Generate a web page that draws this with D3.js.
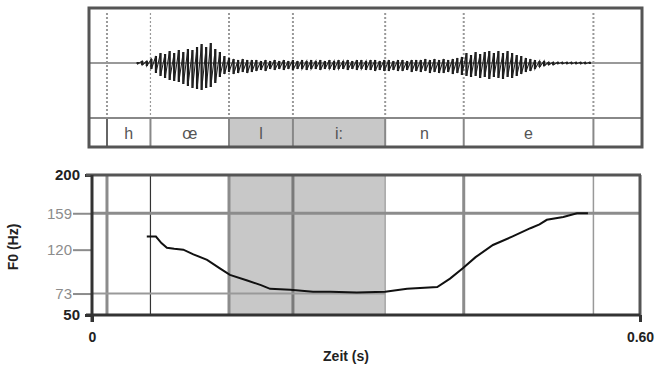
<!DOCTYPE html>
<html lang="de">
<head>
<meta charset="UTF-8">
<title>F0-Verlauf „Hline“</title>
<script src="https://d3js.org/d3.v7.min.js"></script>
<style>
  body { margin: 0; background: #fff; }
  svg { display: block; font-family: "Liberation Sans", Arial, sans-serif; }
</style>
</head>
<body>
<svg id="chart" width="662" height="366"></svg>
<script>
// Segmentgrenzen (s) und Lautbezeichnungen
const boundaries = [0.0164, 0.064, 0.150, 0.220, 0.321, 0.407, 0.549];
const segments = ["", "h", "œ", "l", "i:", "n", "e", ""];
const shadedSegments = ["l", "i:"];

// F0-Kontur
const f0Time = [0.060, 0.070, 0.076, 0.082, 0.090, 0.100, 0.111, 0.126, 0.140, 0.151,
                0.170, 0.185, 0.195, 0.217, 0.242, 0.261, 0.290, 0.321, 0.345, 0.378,
                0.392, 0.406, 0.420, 0.439, 0.460, 0.480, 0.490, 0.498, 0.516, 0.531, 0.543];
const f0Hz = [134, 134, 127, 122, 121, 120, 115, 109, 100, 93,
              87, 82, 78, 77, 75, 75, 74, 75, 78, 80,
              89, 100, 112, 125, 134, 143, 147, 152, 155, 159, 159];

const yTicks = [200, 159, 120, 73, 50];
const yTicksBold = [200, 50];
const xTicks = [0, 0.6];
const xTickLabels = ["0", "0.60"];

// Oszillogramm: Hüllkurve (oben / unten)
const waveTime = [0.050, 0.055, 0.060, 0.065, 0.070, 0.075, 0.080, 0.085, 0.090, 0.095,
                  0.100, 0.105, 0.110, 0.115, 0.120, 0.125, 0.130, 0.135, 0.140, 0.145,
                  0.150, 0.155, 0.160, 0.165, 0.170, 0.175, 0.180, 0.185, 0.190, 0.195,
                  0.200, 0.205, 0.210, 0.215, 0.220, 0.225, 0.230, 0.235, 0.240, 0.245,
                  0.250, 0.255, 0.260, 0.265, 0.270, 0.275, 0.280, 0.285, 0.290, 0.295,
                  0.300, 0.305, 0.310, 0.315, 0.320, 0.325, 0.330, 0.335, 0.340, 0.345,
                  0.350, 0.355, 0.360, 0.365, 0.370, 0.375, 0.380, 0.385, 0.390, 0.395,
                  0.400, 0.405, 0.410, 0.415, 0.420, 0.425, 0.430, 0.435, 0.440, 0.445,
                  0.450, 0.455, 0.460, 0.465, 0.470, 0.475, 0.480, 0.485, 0.490, 0.495,
                  0.500, 0.505, 0.510, 0.515, 0.520, 0.525, 0.530, 0.535, 0.540, 0.545];
const waveTop = [1, 2, 2, 4, 7, 10, 9, 12, 10, 13,
                 11, 14, 13, 16, 19, 16, 20, 14, 11, 7,
                 5, 4, 3, 4, 3, 3, 3, 2, 3, 2,
                 3, 2, 3, 2, 3, 2, 3, 2, 3, 2,
                 3, 2, 3, 2, 3, 2, 3, 2, 3, 3,
                 2, 3, 3, 2, 3, 3, 2, 3, 3, 2,
                 3, 3, 3, 4, 3, 4, 3, 4, 3, 4,
                 5, 6, 10, 8, 11, 9, 11, 12, 10, 12,
                 10, 12, 10, 8, 7, 5, 4, 3, 2, 2,
                 1, 1, 1, 1, 1, 1, 1, 1, 1, 1];
const waveBottom = [1, 2, 3, 6, 10, 13, 15, 17, 18, 19,
                    21, 23, 25, 26, 27, 25, 24, 20, 14, 11,
                    9, 11, 10, 9, 10, 9, 8, 7, 8, 6,
                    7, 6, 7, 6, 7, 6, 6, 7, 6, 6,
                    7, 6, 6, 7, 6, 6, 7, 6, 7, 6,
                    7, 7, 8, 7, 8, 8, 7, 8, 8, 7,
                    9, 8, 9, 8, 10, 9, 10, 10, 9, 11,
                    10, 12, 13, 14, 13, 15, 14, 16, 14, 15,
                    16, 14, 15, 13, 11, 9, 8, 6, 4, 3,
                    2, 2, 1, 1, 1, 1, 1, 1, 1, 1];

const svg = d3.select("#chart");
const x = d3.scaleLinear().domain([0, 0.6]).range([92, 640]);
const y = d3.scaleLinear().domain([50, 200]).range([315, 175]);
const amp = d3.scaleLinear().domain([-55, 55]).range([118, 8]);

const edges = [0, ...boundaries, 0.6];
const boxL = x(0) - 3, boxR = x(0.6) + 2, boxT = 8, rowT = 118, boxB = 147;

// ---------- oberes Feld: Oszillogramm + Segmentierung ----------
const osc = svg.append("g");

// Zellen der Lautzeile
edges.slice(0, -1).forEach((t, i) => {
    const x0 = i === 0 ? boxL : x(t);
    const x1 = i === edges.length - 2 ? boxR : x(edges[i + 1]);
    osc.append("rect")
        .attr("x", x0).attr("y", rowT)
        .attr("width", x1 - x0).attr("height", boxB - rowT)
        .attr("fill", shadedSegments.includes(segments[i]) ? "#c8c8c8" : "#fff");
    if (segments[i]) {
        osc.append("text")
            .attr("x", (x0 + x1) / 2).attr("y", (rowT + boxB) / 2 + 6)
            .attr("text-anchor", "middle")
            .attr("font-size", 16)
            .attr("fill", "#555")
            .text(segments[i]);
    }
});

// Nulllinie
osc.append("line")
    .attr("x1", boxL).attr("x2", boxR)
    .attr("y1", amp(0)).attr("y2", amp(0))
    .attr("stroke", "#999").attr("stroke-width", 2);

// gepunktete Grenzen im Oszillogramm, durchgezogen in der Lautzeile
boundaries.forEach((t, i) => {
    osc.append("line")
        .attr("x1", x(t)).attr("x2", x(t))
        .attr("y1", boxT + 5).attr("y2", rowT)
        .attr("stroke", "#999")
        .attr("stroke-width", i === 1 ? 1.2 : 2)
        .attr("stroke-dasharray", "2,2");
    osc.append("line")
        .attr("x1", x(t)).attr("x2", x(t))
        .attr("y1", rowT).attr("y2", boxB)
        .attr("stroke", i === 0 ? "#666" : "#888")
        .attr("stroke-width", 2);
});

// Oszillogramm: senkrechte Ausschläge + Verbindung
osc.selectAll(".stroke")
    .data(waveTime)
    .enter()
    .append("line")
    .attr("class", "stroke")
    .attr("x1", d => x(d)).attr("x2", d => x(d))
    .attr("y1", (d, i) => amp(waveTop[i]))
    .attr("y2", (d, i) => amp(-waveBottom[i]))
    .attr("stroke", "#111")
    .attr("stroke-width", 2.2);

const wavePts = [];
waveTime.forEach((t, i) => {
    wavePts.push([t, waveTop[i]]);
    wavePts.push([t, -waveBottom[i]]);
});
osc.append("path")
    .attr("d", d3.line().x(d => x(d[0])).y(d => amp(d[1]))(wavePts))
    .attr("fill", "none")
    .attr("stroke", "#222")
    .attr("stroke-width", 1.1);

osc.append("line")
    .attr("x1", boxL).attr("x2", boxR)
    .attr("y1", rowT).attr("y2", rowT)
    .attr("stroke", "#888").attr("stroke-width", 2);
osc.append("rect")
    .attr("x", boxL).attr("y", boxT)
    .attr("width", boxR - boxL).attr("height", boxB - boxT)
    .attr("fill", "none").attr("stroke", "#555").attr("stroke-width", 3);

// ---------- unteres Feld: F0 ----------
const bot = svg.append("g");

const s0 = boundaries[segments.indexOf("l") - 1], s1 = boundaries[segments.indexOf("i:")];
bot.append("rect")
    .attr("x", x(s0)).attr("y", y(200))
    .attr("width", x(s1) - x(s0)).attr("height", y(50) - y(200))
    .attr("fill", "#c8c8c8");

const lineW = [3, 1.2, 3, 3, 1.2, 3, 1.5];
const lineC = ["#8c8c8c", "#333", "#8c8c8c", "#7a7a7a", "#999", "#8c8c8c", "#999"];
boundaries.forEach((t, i) => {
    bot.append("line")
        .attr("x1", x(t)).attr("x2", x(t))
        .attr("y1", y(200)).attr("y2", y(50))
        .attr("stroke", lineC[i]).attr("stroke-width", lineW[i]);
});

// Referenzlinien Max / Min
bot.append("line")
    .attr("x1", x(0)).attr("x2", x(0.6))
    .attr("y1", y(159)).attr("y2", y(159))
    .attr("stroke", "#8c8c8c").attr("stroke-width", 3);
bot.append("line")
    .attr("x1", x(0)).attr("x2", x(s1))
    .attr("y1", y(73)).attr("y2", y(73))
    .attr("stroke", "#999").attr("stroke-width", 2);

// Y-Achse
const yAxis = bot.append("g")
    .attr("transform", `translate(${x(0)},0)`)
    .call(d3.axisLeft(y).tickValues(yTicks).tickSizeOuter(0));
yAxis.select(".domain").remove();
yAxis.selectAll(".tick").each(function(d) {
    const bold = yTicksBold.includes(d);
    const g = d3.select(this);
    g.select("line")
        .attr("x2", bold ? -7 : -19)
        .attr("stroke", bold ? "#333" : "#8c8c8c")
        .attr("stroke-width", bold ? 3 : 2);
    g.select("text")
        .attr("x", bold ? -12 : -20)
        .attr("font-size", 15)
        .attr("font-family", "Liberation Sans, Arial, sans-serif")
        .attr("font-weight", bold ? "bold" : "normal")
        .attr("fill", bold ? "#222" : "#8c8c8c");
});

// X-Achse
const xAxis = bot.append("g")
    .attr("transform", `translate(0,${y(50)})`)
    .call(d3.axisBottom(x).tickValues(xTicks).tickFormat((d, i) => xTickLabels[i]).tickSize(7).tickSizeOuter(0));
xAxis.select(".domain").remove();
xAxis.selectAll(".tick line").attr("stroke", "#333").attr("stroke-width", 3);
xAxis.selectAll(".tick text")
    .attr("y", 17)
    .attr("font-size", 14)
    .attr("font-family", "Liberation Sans, Arial, sans-serif")
    .attr("font-weight", "bold")
    .attr("fill", "#222");

// F0-Kurve
bot.append("path")
    .datum(f0Time.map((t, i) => [t, f0Hz[i]]))
    .attr("d", d3.line().x(d => x(d[0])).y(d => y(d[1])))
    .attr("fill", "none")
    .attr("stroke", "#111")
    .attr("stroke-width", 2);

// Rahmen
bot.append("line").attr("x1", x(0) - 6).attr("x2", x(0.6) + 1).attr("y1", y(200)).attr("y2", y(200))
    .attr("stroke", "#555").attr("stroke-width", 3);
bot.append("line").attr("x1", x(0.6)).attr("x2", x(0.6)).attr("y1", y(200)).attr("y2", y(50))
    .attr("stroke", "#555").attr("stroke-width", 3);
bot.append("line").attr("x1", x(0) - 6).attr("x2", x(0.6)).attr("y1", y(50)).attr("y2", y(50))
    .attr("stroke", "#333").attr("stroke-width", 3);
bot.append("line").attr("x1", x(0)).attr("x2", x(0)).attr("y1", y(200)).attr("y2", y(50) + 7)
    .attr("stroke", "#333").attr("stroke-width", 3);

// Achsentitel
svg.append("text")
    .attr("x", 346).attr("y", 361)
    .attr("text-anchor", "middle")
    .attr("font-size", 14).attr("font-weight", "bold").attr("fill", "#222")
    .text("Zeit (s)");
svg.append("text")
    .attr("transform", "translate(18,247) rotate(-90)")
    .attr("text-anchor", "middle")
    .attr("font-size", 14).attr("font-weight", "bold").attr("fill", "#222")
    .text("F0 (Hz)");
</script>
</body>
</html>
